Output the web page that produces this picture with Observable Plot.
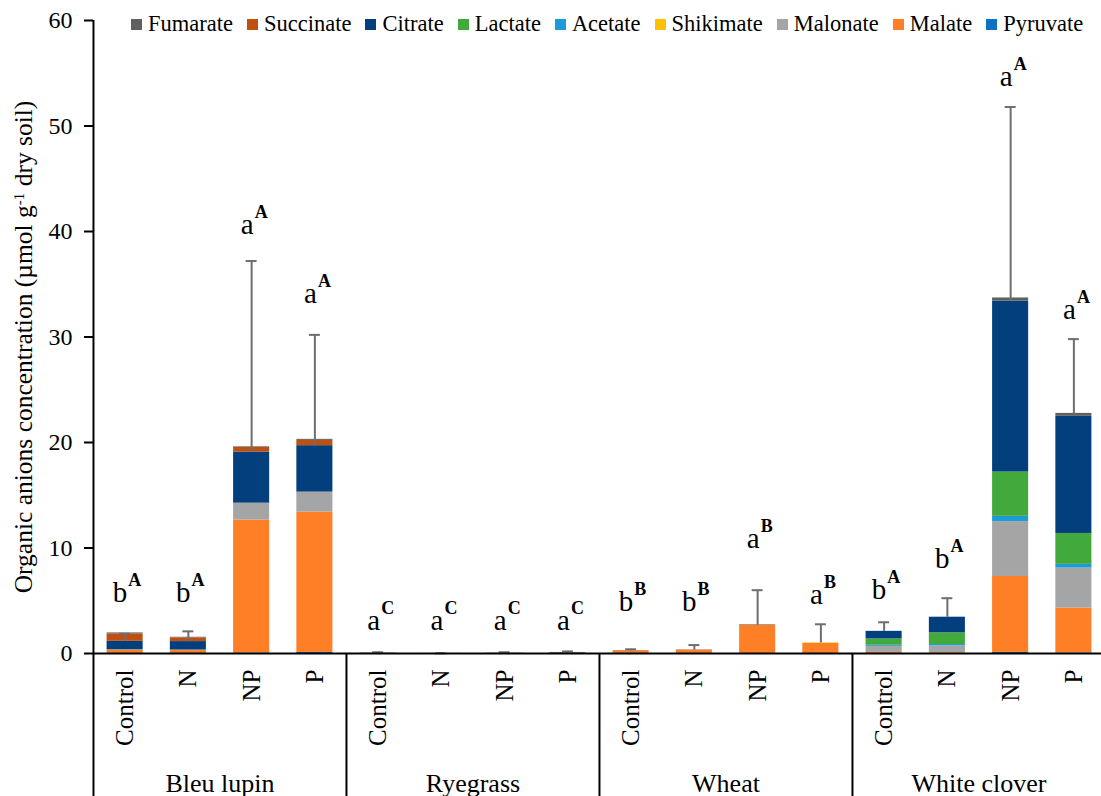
<!DOCTYPE html>
<html>
<head>
<meta charset="utf-8">
<script src="https://cdn.jsdelivr.net/npm/d3@7"></script>
<script src="https://cdn.jsdelivr.net/npm/@observablehq/plot@0.6"></script>
<style>
  html, body { margin: 0; padding: 0; background: #fff; overflow: hidden; }
  #chart { position: relative; width: 1101px; height: 796px; }
  #legend {
    position: absolute; left: 131px; top: 11px;
    display: flex; align-items: center; white-space: nowrap;
    font-family: "Liberation Serif", serif; font-size: 22.5px; color: #000; line-height: 26px;
  }
  #legend .item { display: inline-flex; align-items: center; margin-right: 14px; }
  #legend .swatch { display: inline-block; width: 11px; height: 11px; margin-right: 6px; }
</style>
</head>
<body>
<div id="chart"><div id="legend"></div></div>
<script>
// Groups and treatments along the x axis
const crops = ["Bleu lupin", "Ryegrass", "Wheat", "White clover"];
const treatments = ["Control", "N", "NP", "P"];

// Organic anions, in legend order, with their fills
const anions = ["Fumarate", "Succinate", "Citrate", "Lactate", "Acetate", "Shikimate", "Malonate", "Malate", "Pyruvate"];
const palette = ["#606060", "#c0500f", "#033f7c", "#42a93c", "#1c9bd7", "#ffc000", "#a5a5a5", "#ff7f27", "#1070c4"];
// Stacking order, bottom to top
const stackOrder = ["Pyruvate", "Malate", "Malonate", "Shikimate", "Acetate", "Lactate", "Citrate", "Succinate", "Fumarate"];

// Concentrations (µmol g-1 dry soil); 16 values each:
// Bleu lupin C,N,NP,P | Ryegrass C,N,NP,P | Wheat C,N,NP,P | White clover C,N,NP,P
const pyruvate  = [0, 0, 0.05, 0.1,   0, 0, 0, 0,            0, 0, 0, 0,            0, 0, 0.1, 0.05];
const malate    = [0.3, 0.28, 12.6, 13.3, 0.03, 0.01, 0.02, 0.03, 0.25, 0.33, 2.68, 0.95, 0.1, 0.07, 7.2, 4.25];
const malonate  = [0.05, 0.05, 1.6, 1.9, 0, 0, 0, 0,         0, 0, 0, 0,            0.58, 0.66, 5.2, 3.8];
const shikimate = [0, 0, 0, 0,         0, 0, 0, 0,            0, 0, 0, 0.05,         0, 0, 0, 0];
const acetate   = [0, 0, 0, 0,         0, 0, 0, 0,            0, 0, 0, 0,            0.1, 0.12, 0.5, 0.35];
const lactate   = [0, 0, 0, 0,         0, 0, 0, 0,            0, 0, 0, 0,            0.6, 1.11, 4.2, 2.93];
const citrate   = [0.8, 0.8, 4.85, 4.4, 0, 0, 0, 0,          0, 0, 0, 0,            0.72, 1.48, 16.2, 11.1];
const succinate = [0.7, 0.35, 0.45, 0.5, 0, 0, 0, 0,         0, 0, 0, 0,            0, 0, 0, 0];
const fumarate  = [0.1, 0.06, 0.05, 0.1, 0.02, 0, 0.02, 0.07, 0.03, 0.02, 0.05, 0,  0, 0, 0.3, 0.28];

// Upper end of each error bar
const errorTop = [1.87, 2.1, 37.2, 30.2, 0.12, 0.02, 0.12, 0.2, 0.4, 0.8, 6.0, 2.77, 2.96, 5.24, 51.8, 29.8];

// Significance letters: treatment (lower case) and crop (upper case), and the height they sit at
const treatmentLetter = ["b", "b", "a", "a", "a", "a", "a", "a", "b", "b", "a", "a", "b", "b", "a", "a"];
const cropLetter      = ["A", "A", "A", "A", "C", "C", "C", "C", "B", "B", "B", "B", "A", "A", "A", "A"];
const letterHeight    = [4.86, 4.86, 39.8, 33.2, 2.2, 2.2, 2.2, 2.2, 4.07, 4.07, 10.0, 4.7, 5.2, 8.1, 53.8, 31.7];

const yTicks = [0, 10, 20, 30, 40, 50, 60];

const series = {Pyruvate: pyruvate, Malate: malate, Malonate: malonate, Shikimate: shikimate,
  Acetate: acetate, Lactate: lactate, Citrate: citrate, Succinate: succinate, Fumarate: fumarate};

const cells = crops.flatMap((crop) => treatments.map((treatment) => ({crop, treatment})));
const rows = cells.flatMap((cell, i) => stackOrder.map((anion) => ({...cell, anion, value: series[anion][i]})));
// error bars rise from the top of the citrate segment
const upToCitrate = stackOrder.slice(0, stackOrder.indexOf("Citrate") + 1);
const errors = cells.map((cell, i) => ({...cell, base: d3.sum(upToCitrate, (a) => series[a][i]), top: errorTop[i]}));
const letters = cells.map((cell, i) => ({...cell, lower: treatmentLetter[i], upper: cropLetter[i], at: letterHeight[i]}));

// Layout
const W = 1101, H = 796;
const MT = 20, MB = 143, ML = 92, MR = -4;
const innerPad = 0.43;
const step = (W - ML - MR) / (crops.length * treatments.length);
const bandwidth = step * (1 - innerPad);
const capInset = (bandwidth - 11) / 2;
const plotH = H - MT - MB;
const yMax = yTicks[yTicks.length - 1];
const yBottom = yMax - (H - MT) / plotH * yMax; // value at the bottom edge of the svg
const dividers = crops.map((crop, i) => ({crop, top: i === 0 ? yMax : 0}));

const font = "Liberation Serif, serif";

const chart = Plot.plot({
  width: W, height: H,
  marginTop: MT, marginBottom: MB, marginLeft: ML, marginRight: MR,
  style: {fontFamily: font, fontSize: "24px", color: "#000", background: "#fff", overflow: "visible"},
  fx: {domain: crops, padding: 0, label: null},
  x: {domain: treatments, paddingInner: innerPad, paddingOuter: innerPad / 2, label: null, round: false},
  y: {domain: [0, yMax], label: null},
  color: {domain: anions, range: palette},
  marks: [
    Plot.barY(rows, {fx: "crop", x: "treatment", y: "value", fill: "anion", order: stackOrder}),
    Plot.ruleX(errors, {fx: "crop", x: "treatment", y1: "base", y2: "top", stroke: "#6e6e6e", strokeWidth: 2}),
    Plot.tickY(errors, {fx: "crop", x: "treatment", y: "top", stroke: "#6e6e6e", strokeWidth: 2, insetLeft: capInset, insetRight: capInset}),
    Plot.ruleY([0], {stroke: "#000", strokeWidth: 2}),
    Plot.ruleX(dividers, {fx: "crop", x: () => treatments[0], y1: yBottom, y2: "top", dx: -step / 2, stroke: "#000", strokeWidth: 2}),
    Plot.text(letters, {fx: "crop", x: "treatment", y: "at", text: "lower", textAnchor: "end", lineAnchor: "bottom", dx: 2, fontSize: 29, fill: "#000"}),
    Plot.text(letters, {fx: "crop", x: "treatment", y: "at", text: "upper", textAnchor: "start", lineAnchor: "bottom", dx: 3, dy: -16, fontSize: 18, fontWeight: "bold", fill: "#000"}),
    Plot.axisY({ticks: yTicks, tickSize: 9, tickPadding: 12, strokeWidth: 2, fontSize: 24,
      label: "Organic anions concentration (µmol g-1 dry soil)", labelAnchor: "center", labelOffset: 80}),
    Plot.axisX({tickRotate: -90, tickSize: 0, tickPadding: 16, fontSize: 25, label: null}),
    Plot.axisFx({anchor: "bottom", tickSize: 0, tickPadding: 120, fontSize: 26, label: null})
  ]
});

// y-axis title with a superscript exponent, nudged down along its own axis
const title = d3.select(chart).select('g[aria-label="y-axis label"] text');
if (!title.empty()) {
  title.text(null).attr("font-size", null).style("font-size", "25.5px");
  title.append("tspan").attr("x", -10).text("Organic anions concentration (µmol g");
  title.append("tspan").attr("dy", -8).style("font-size", "15px").text("-1");
  title.append("tspan").attr("dy", 8).text(" dry soil)");
}

const root = document.getElementById("chart");
root.insertBefore(chart, root.firstChild);

// Swatch legend across the top, using the chart's own colour scale
const color = chart.scale("color");
const legend = d3.select("#legend");
const items = legend.selectAll(".item").data(color.domain).join("span").attr("class", "item");
items.append("span").attr("class", "swatch").style("background", (d, i) => color.range[i]);
items.append("span").text((d) => d);
</script>
</body>
</html>
